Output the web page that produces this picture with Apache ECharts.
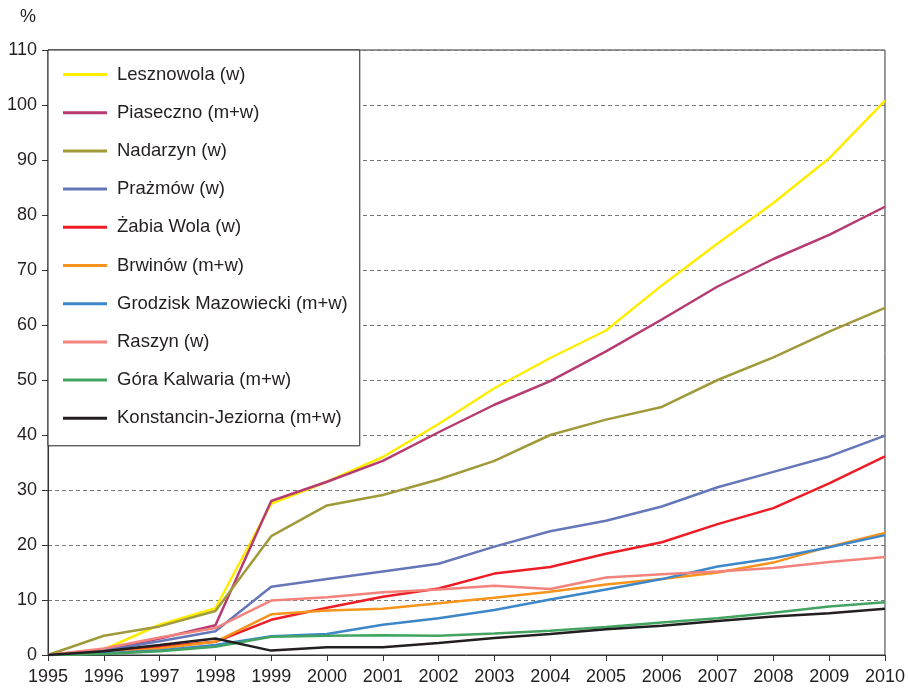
<!DOCTYPE html>
<html>
<head>
<meta charset="utf-8">
<title>Gminy - wykres</title>
<script src="https://cdn.jsdelivr.net/npm/echarts@6/dist/echarts.min.js"></script>
<style>
  html, body { margin: 0; padding: 0; background: #fff; }
  #chart { width: 908px; height: 690px; }
</style>
</head>
<body>
<div id="chart"></div>
<script>
// lata
const years = ['1995', '1996', '1997', '1998', '1999', '2000', '2001', '2002',
  '2003', '2004', '2005', '2006', '2007', '2008', '2009', '2010']

// wartości (%)
const lesznowola = [0, 1, 5.5, 8.5, 27.5, 31.5, 36, 42, 48.5, 54, 59, 67.2, 74.8, 82.2, 90.3, 100.8]
const piaseczno = [0, 1, 3, 5.4, 28, 31.5, 35.3, 40.5, 45.5, 49.8, 55.2, 61, 67, 72, 76.4, 81.5]
const nadarzyn = [0, 3.5, 5.2, 8, 21.6, 27.2, 29.1, 31.9, 35.3, 40, 42.8, 45.1, 50, 54.1, 58.8, 63.1]
const prazmow = [0, 0.8, 2.5, 4.3, 12.4, 13.8, 15.2, 16.6, 19.7, 22.5, 24.4, 27, 30.5, 33.3, 36.1, 39.9]
const zabiaWola = [0, 0.5, 1.5, 2.4, 6.4, 8.6, 10.6, 12.1, 14.8, 16, 18.4, 20.5, 23.8, 26.7, 31.2, 36.1]
const brwinow = [0, 0.3, 1.2, 2.4, 7.4, 8.1, 8.4, 9.4, 10.4, 11.5, 12.8, 13.8, 15, 16.8, 19.7, 22.2]
const grodzisk = [0, 0.3, 0.8, 1.8, 3.4, 3.8, 5.5, 6.7, 8.2, 10.1, 11.9, 13.8, 16.1, 17.6, 19.6, 21.8]
const raszyn = [0, 1.2, 3.2, 4.9, 9.9, 10.5, 11.4, 11.9, 12.6, 12, 14.1, 14.7, 15.2, 15.8, 16.9, 17.8]
const goraKalwaria = [0, 0.2, 0.7, 1.5, 3.3, 3.5, 3.6, 3.5, 3.9, 4.4, 5.1, 5.9, 6.7, 7.7, 8.8, 9.6]
const konstancin = [0, 0.7, 1.8, 3, 0.8, 1.4, 1.4, 2.2, 3.1, 3.8, 4.7, 5.3, 6.2, 7, 7.6, 8.4]

// nazwy i kolory
const names = ['Lesznowola (w)', 'Piaseczno (m+w)', 'Nadarzyn (w)', 'Prażmów (w)',
  'Żabia Wola (w)', 'Brwinów (m+w)', 'Grodzisk Mazowiecki (m+w)', 'Raszyn (w)',
  'Góra Kalwaria (m+w)', 'Konstancin-Jeziorna (m+w)']
const values = [lesznowola, piaseczno, nadarzyn, prazmow, zabiaWola, brwinow,
  grodzisk, raszyn, goraKalwaria, konstancin]
const colors = ['#ffed00', '#b63b73', '#a09a3a', '#6677b9', '#ee1c25',
  '#f7941d', '#3d87c9', '#f4837d', '#43a462', '#231f20']

const font = 'Liberation Sans, Arial, sans-serif'
const ink = '#231f20'

let series = []
for (let i = 0; i < names.length; i++) {
  series.push({
    name: names[i],
    type: 'line',
    data: values[i],
    symbol: 'none',
    lineStyle: { width: 2.5, color: colors[i] },
    itemStyle: { color: colors[i] },
    animation: false
  })
}

let myChart = echarts.init(document.getElementById('chart'))
myChart.setOption({
  textStyle: { fontFamily: font },
  grid: {
    left: 48,
    right: 23,
    top: 50,
    bottom: 35,
    show: true,
    borderColor: '#333',
    borderWidth: 1
  },
  legend: {
    orient: 'vertical',
    left: 48,
    top: 50,
    backgroundColor: '#fff',
    borderColor: ink,
    borderWidth: 1,
    borderRadius: 0,
    padding: [15, 12, 18, 15],
    icon: 'rect',
    itemWidth: 44,
    itemHeight: 3,
    itemGap: 19.2,
    textStyle: {
      fontSize: 18.5,
      lineHeight: 18,
      color: ink,
      fontFamily: font,
      padding: [0, 0, 0, 5]
    },
    data: names
  },
  xAxis: {
    type: 'category',
    data: years,
    boundaryGap: false,
    axisLine: { lineStyle: { color: '#333', width: 1 } },
    axisTick: { show: true, length: 6, lineStyle: { color: '#333' } },
    axisLabel: { fontSize: 18, color: ink, margin: 13 },
    splitLine: { show: false }
  },
  yAxis: {
    type: 'value',
    min: 0,
    max: 110,
    interval: 10,
    name: '%',
    nameLocation: 'end',
    nameGap: 24,
    nameTextStyle: { fontSize: 18, color: ink, align: 'right', padding: [0, 12, 0, 0] },
    axisLine: { show: true, lineStyle: { color: '#333', width: 1 } },
    axisTick: { show: true, length: 6, lineStyle: { color: '#333' } },
    axisLabel: { fontSize: 18, color: ink, margin: 11 },
    splitLine: { show: true, lineStyle: { color: '#777', type: [4, 3], width: 1 } }
  },
  series: series
})
</script>
</body>
</html>
